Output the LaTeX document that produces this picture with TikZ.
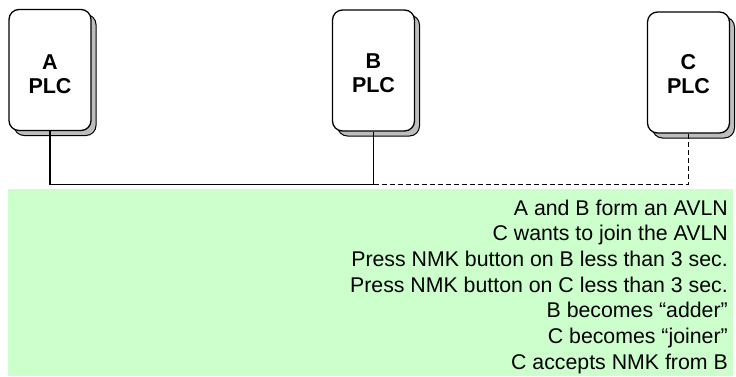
\documentclass[tikz,border=0pt]{standalone}
\usepackage{fontspec}
\setmainfont{Liberation Sans}
\usetikzlibrary{shadows}
\definecolor{bandgreen}{HTML}{CCFFCC}
\definecolor{shadowgray}{HTML}{BDBDBD}
\tikzset{
  plcbox/.style={draw=black, line width=1.3pt, rounded corners=10pt, fill=white,
    minimum width=82pt, minimum height=121pt, inner sep=0pt,
    general shadow={fill=shadowgray, draw=black, line width=1pt,
      shadow xshift=5pt, shadow yshift=-5pt}},
  plclabel/.style={align=center, inner sep=0pt,
    font=\fontsize{21.5}{24}\selectfont\bfseries},
  conn/.style={draw=black, line width=1.2pt},
  dashconn/.style={conn, dash pattern=on 5pt off 3pt},
  note/.style={anchor=base east, inner sep=0pt, font=\fontsize{21.3}{25.6}\selectfont}
}
\begin{document}
\begin{tikzpicture}[x=1pt,y=-1pt]
\useasboundingbox (0,0) rectangle (736,376);
% green band
\fill[bandgreen] (8,189) rectangle (733,376);
% PLC boxes
\node[plcbox] (A) at (50,70) {};
\node[plcbox] (B) at (373.5,70.5) {};
\node[plcbox] (C) at (688.5,72.5) {};
\node[plclabel] (Al) at ([yshift=-4pt]A.center) {A\\PLC};
\node[plclabel] (Bl) at ([yshift=-3pt]B.center) {B\\PLC};
\node[plclabel] (Cl) at ([yshift=-2pt]C.center) {C\\PLC};
% connectors
\path (B.south) ++(0,52.5) coordinate (jb);
\draw[conn] (A.south) |- (jb) -- (B.south);
\draw[dashconn] (jb) -| (C.south);
% notes
\node[note] (l1) at (728,215)   {A and B form an AVLN};
\node[note] (l2) at (728,240.7) {C wants to join the AVLN};
\node[note] (l3) at (728,266.3) {Press NMK button on B less than 3 sec.};
\node[note] (l4) at (728,292)   {Press NMK button on C less than 3 sec.};
\node[note] (l5) at (728,317.7) {B becomes “adder”};
\node[note] (l6) at (728,343.3) {C becomes “joiner”};
\node[note] (l7) at (728,369)   {C accepts NMK from B};
\end{tikzpicture}
\end{document}
